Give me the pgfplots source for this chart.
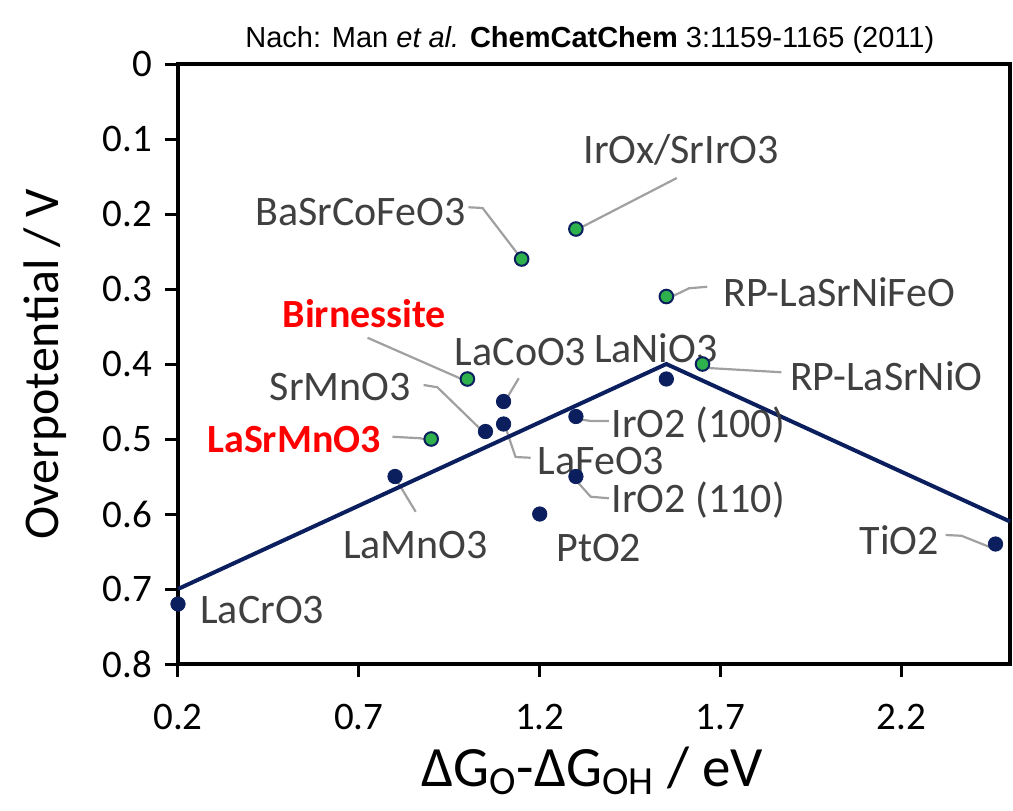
\documentclass[border=0pt]{standalone}
\usepackage{fontspec}
\setmainfont{Carlito}
\newfontfamily\arial{Liberation Sans}
\usepackage{pgfplots}
\pgfplotsset{compat=1.18}

\definecolor{navy}{HTML}{0B1F5E}
\definecolor{dotgreen}{HTML}{2EB04C}
\definecolor{lblgray}{HTML}{404040}
\definecolor{leadgray}{HTML}{A0A0A0}

% navy: reference oxides, green: the ones marked in green in the source
\pgfplotstableread{
x    y
0.20 0.72
0.80 0.55
1.05 0.49
1.10 0.48
1.10 0.45
1.20 0.60
1.30 0.47
1.30 0.55
1.55 0.42
2.46 0.64
}\navydots

\pgfplotstableread{
x    y
0.90 0.50
1.00 0.42
1.15 0.26
1.30 0.22
1.55 0.31
1.65 0.40
}\greendots

\begin{document}
\begin{tikzpicture}[
  lbl/.style={text=lblgray, font=\fontsize{21}{24}\selectfont, inner sep=0pt},
  redlbl/.style={text=red, font=\fontsize{20}{24}\selectfont\bfseries, inner sep=0pt},
  lead/.style={draw=leadgray, line width=1.1pt, line join=round}
]
\begin{axis}[
  scale only axis,
  width=416pt, height=300pt,
  xmin=0.2, xmax=2.5,
  ymin=0, ymax=0.8,
  y dir=reverse,
  xtick={0.2,0.7,1.2,1.7,2.2},
  ytick={0,0.1,0.2,0.3,0.4,0.5,0.6,0.7,0.8},
  xtick pos=bottom, ytick pos=left,
  tick align=outside,
  major tick length=6.5pt,
  axis line style={line width=1.7pt},
  every tick/.style={black, line width=1.5pt},
  /pgf/number format/assume math mode=true,
  /pgf/number format/fixed,
  /pgf/number format/precision=1,
  tick label style={font=\fontsize{19.5}{22}\selectfont, text=black},
  xticklabel style={yshift=-10pt},
  yticklabel style={xshift=-3pt},
  xlabel={ΔG\textsubscript{O}-ΔG\textsubscript{OH} / eV},
  ylabel={Overpotential / V},
  every axis x label/.style={at={(axis description cs:0.498,-0.178)}, anchor=center, font=\fontsize{28.5}{32}\selectfont},
  every axis y label/.style={at={(axis description cs:-0.16,0.5)}, anchor=center, rotate=90, font=\fontsize{25}{28}\selectfont},
  clip=false,
]

% leader lines
\draw[lead] (axis cs:1.302,0.221) -- (axis cs:1.579,0.152);
\draw[lead] (axis cs:1.003,0.191) -- (axis cs:1.042,0.192) -- (axis cs:1.142,0.255);
\draw[lead] (axis cs:1.557,0.312) -- (axis cs:1.613,0.299) -- (axis cs:1.663,0.297);
\draw[lead] (axis cs:0.724,0.365) -- (axis cs:0.998,0.423);
\draw[lead] (axis cs:1.100,0.453) -- (axis cs:1.142,0.419);
\draw[lead] (axis cs:1.654,0.405) -- (axis cs:1.868,0.411);
\draw[lead] (axis cs:0.879,0.428) -- (axis cs:0.917,0.431) -- (axis cs:1.045,0.491);
\draw[lead] (axis cs:1.300,0.473) -- (axis cs:1.341,0.476) -- (axis cs:1.391,0.476);
\draw[lead] (axis cs:1.106,0.485) -- (axis cs:1.133,0.524) -- (axis cs:1.175,0.525);
\draw[lead] (axis cs:1.300,0.555) -- (axis cs:1.341,0.577) -- (axis cs:1.391,0.579);
\draw[lead] (axis cs:2.322,0.628) -- (axis cs:2.366,0.629) -- (axis cs:2.449,0.645);
\draw[lead] (axis cs:0.807,0.557) -- (axis cs:0.857,0.597);
\draw[lead] (axis cs:0.793,0.497) -- (axis cs:0.870,0.499) -- (axis cs:0.904,0.503);

% volcano
\addplot[navy, line width=2pt, mark=none] coordinates {(0.2,0.70) (1.55,0.40) (2.5,0.61)};

\addplot[only marks, mark=*, mark size=3.6pt, mark options={fill=navy, draw=navy}] table {\navydots};
\addplot[only marks, mark=*, mark size=3.4pt, mark options={fill=dotgreen, draw=navy, line width=1pt}] table {\greendots};

% labels
\node[lbl] at (axis cs:1.591,0.115) {IrOx/SrIrO3};
\node[lbl] at (axis cs:0.704,0.197) {BaSrCoFeO3};
\node[lbl] at (axis cs:2.028,0.304) {RP-LaSrNiFeO};
\node[redlbl] at (axis cs:0.715,0.333) {Birnessite};
\node[lbl] at (axis cs:1.147,0.384) {LaCoO3};
\node[lbl] at (axis cs:1.521,0.379) {LaNiO3};
\node[lbl] at (axis cs:2.158,0.416) {RP-LaSrNiO};
\node[lbl] at (axis cs:0.649,0.431) {SrMnO3};
\node[lbl] at (axis cs:1.638,0.481) {IrO2 (100)};
\node[redlbl] at (axis cs:0.521,0.501) {LaSrMnO3};
\node[lbl] at (axis cs:1.369,0.529) {LaFeO3};
\node[lbl] at (axis cs:1.638,0.581) {IrO2 (110)};
\node[lbl] at (axis cs:0.857,0.641) {LaMnO3};
\node[lbl] at (axis cs:1.363,0.645) {PtO2};
\node[lbl] at (axis cs:2.194,0.635) {TiO2};
\node[lbl] at (axis cs:0.433,0.728) {LaCrO3};

\node[font=\arial\fontsize{14.5}{17}\selectfont, anchor=center]
  at (axis description cs:0.495,1.04)
  {Nach: Man \textit{et al.} \textbf{ChemCatChem} 3:1159-1165 (2011)};
\end{axis}
\pgfresetboundingbox
\path ([shift={(-89pt,-73pt)}]current axis.south west) rectangle ([shift={(1.5pt,32pt)}]current axis.north east);
\end{tikzpicture}
\end{document}
